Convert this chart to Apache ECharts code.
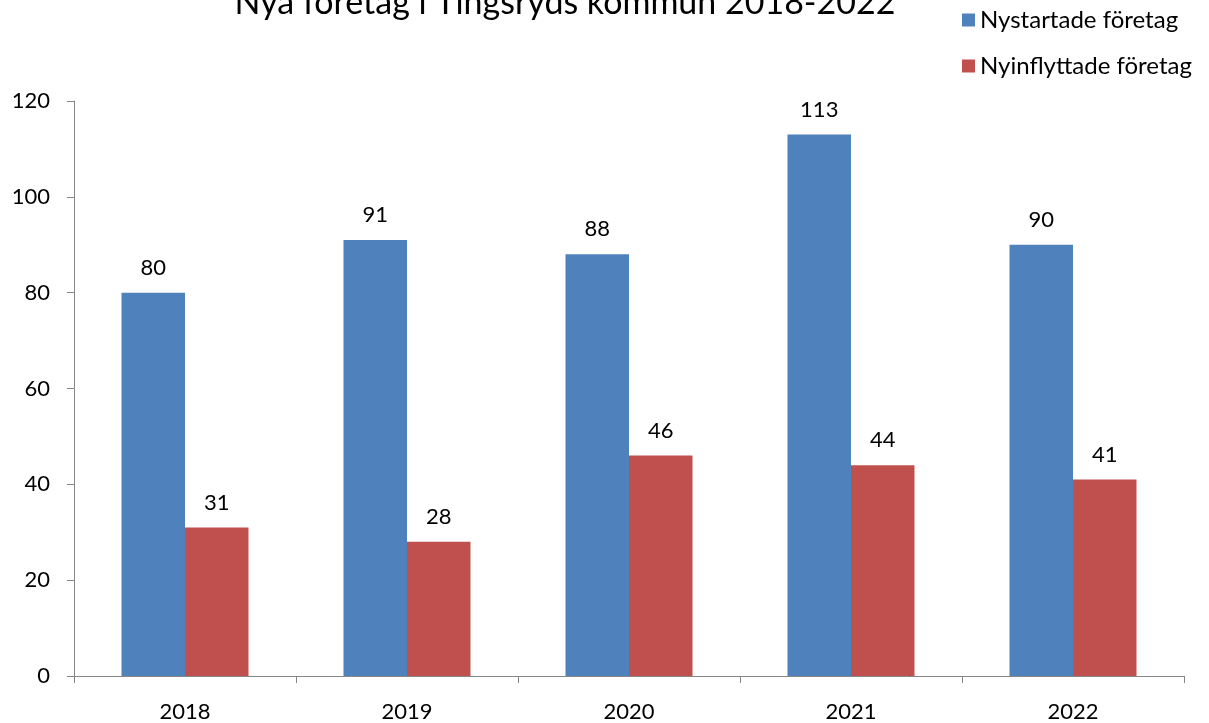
<!DOCTYPE html>
<html><head><meta charset="utf-8">
<script src="https://cdn.jsdelivr.net/npm/echarts@6/dist/echarts.min.js"></script>
<style>html,body{margin:0;padding:0;background:#fff}#c{width:1209px;height:723px}</style>
</head><body><div id="c"></div>
<script>
const categories = ['2018', '2019', '2020', '2021', '2022'];
const nystartade = [80, 91, 88, 113, 90];
const nyinflyttade = [31, 28, 46, 44, 41];
const yTicks = [0, 20, 40, 60, 80, 100, 120];
const titleText = 'Nya företag i Tingsryds kommun 2018-2022';
const FONT = 'Lato, "Noto Sans", sans-serif';
const chart = echarts.init(document.getElementById('c'));
chart.setOption({
  animation: false,
  textStyle: { fontFamily: FONT },
  title: { text: titleText, left: 560, textAlign: 'center', top: -19,
    textStyle: { fontFamily: FONT, fontSize: 34, fontWeight: 'normal', color: '#000' } },
  legend: { orient: 'vertical', left: 957, top: 3, itemWidth: 13, itemHeight: 13, itemGap: 22, icon: 'rect',
    textStyle: { fontFamily: FONT, fontSize: 24, color: '#000' } },
  grid: { left: 74, right: 25, top: 101, bottom: 44, containLabel: false },
  xAxis: { type: 'category', data: categories,
    axisLine: { lineStyle: { color: '#868686', width: 1 } },
    axisTick: { show: true, length: 7, alignWithLabel: false, lineStyle: { color: '#868686' } },
    axisLabel: { fontFamily: FONT, fontSize: 22, color: '#000', margin: 25 } },
  yAxis: { type: 'value', min: yTicks[0], max: yTicks[yTicks.length - 1], interval: 20,
    axisLine: { show: true, lineStyle: { color: '#868686', width: 1 } },
    axisTick: { show: true, length: 7, lineStyle: { color: '#868686' } },
    splitLine: { show: false },
    axisLabel: { fontFamily: FONT, fontSize: 22, color: '#000', margin: 24 } },
  series: [
    { name: 'Nystartade företag', type: 'bar', data: nystartade, barGap: '0%', barCategoryGap: '42.8%',
      itemStyle: { color: '#4f81bd' },
      label: { show: true, position: 'top', distance: 14, fontFamily: FONT, fontSize: 22, color: '#000' } },
    { name: 'Nyinflyttade företag', type: 'bar', data: nyinflyttade, barGap: '0%', barCategoryGap: '42.8%',
      itemStyle: { color: '#c0504d' },
      label: { show: true, position: 'top', distance: 14, fontFamily: FONT, fontSize: 22, color: '#000' } }
  ]
});
</script></body></html>
